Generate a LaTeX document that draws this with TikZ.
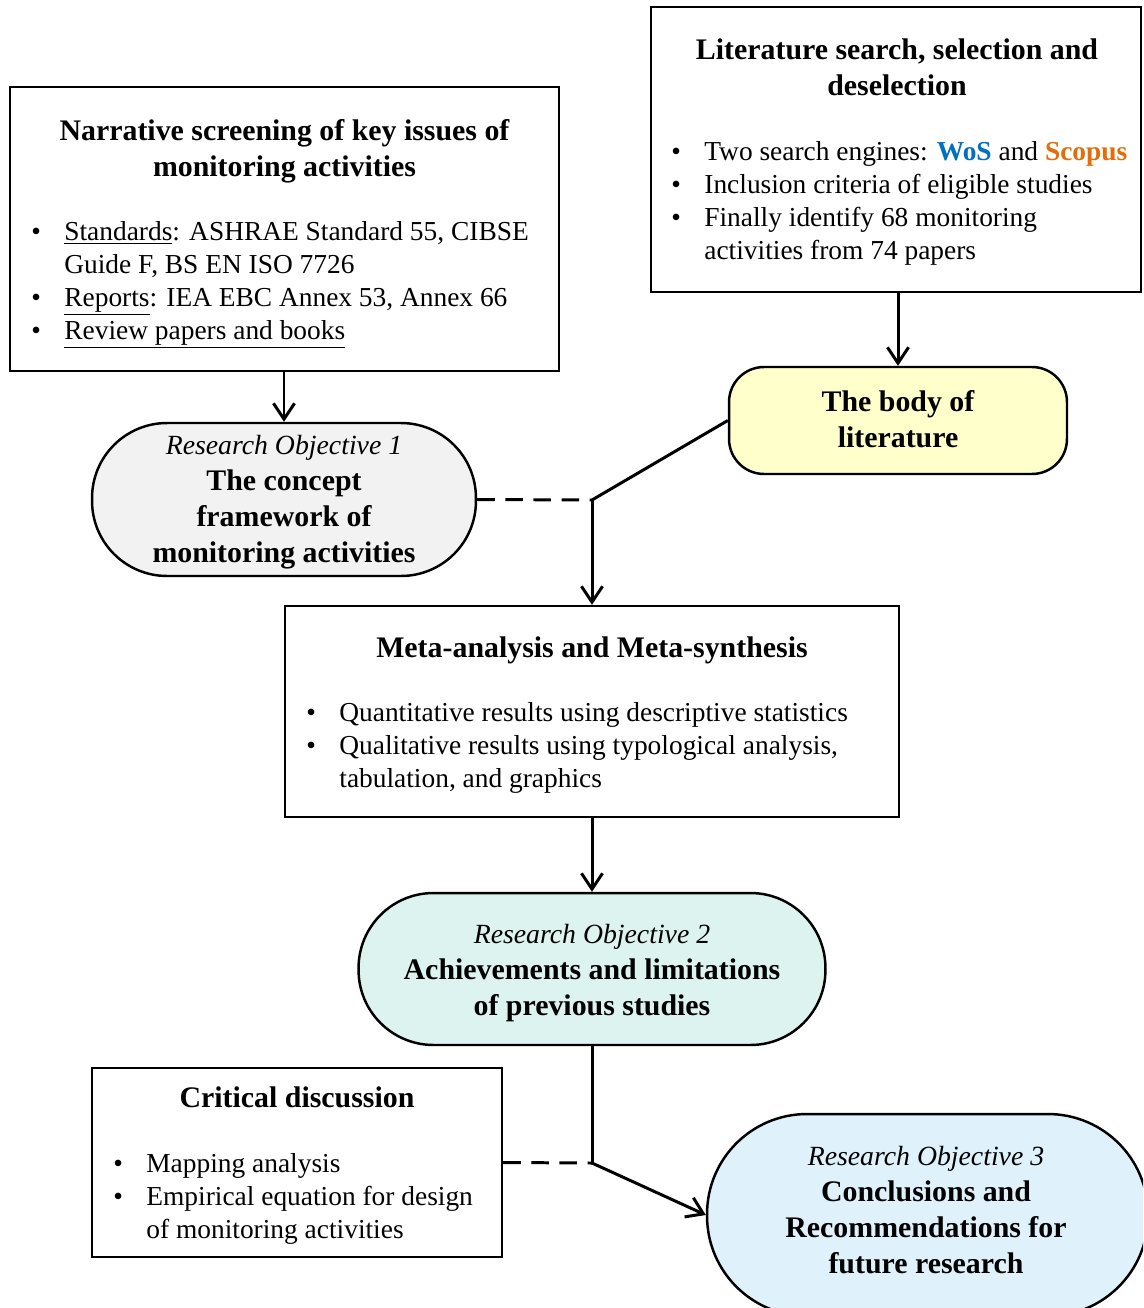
\documentclass[tikz,border=0pt]{standalone}
\usepackage{fontspec}
\setmainfont{Liberation Serif}
\usetikzlibrary{arrows.meta}
\definecolor{wos}{HTML}{0070C0}
\definecolor{scop}{HTML}{E46C0A}
\definecolor{grayfill}{HTML}{F2F2F2}
\definecolor{yelfill}{HTML}{FFFFCC}
\definecolor{mintfill}{HTML}{DDF3EF}
\definecolor{bluefill}{HTML}{DFF1FA}
\newcommand\bul{\makebox[18.8pt][l]{\textbullet}}
\newcommand\ind{\hspace*{18.8pt}}
\begin{document}
\begin{tikzpicture}[x=0.02cm,y=-0.02cm,
  boxst/.style={draw, line width=1.4pt, inner sep=0, fill=white},
  roundst/.style={draw, line width=1.4pt, inner sep=0},
  conn/.style={line width=1.7pt},
  arr/.style={conn, -{Straight Barb[length=9pt,width=12pt]}},
  dashline/.style={line width=1.7pt, dash pattern=on 10pt off 6pt},
  titlefont/.style={inner sep=0, align=center, font=\fontsize{17pt}{20.5pt}\selectfont\bfseries},
  bodyfont/.style={inner sep=0, align=left, anchor=north west, font=\fontsize{15.6pt}{18.78pt}\selectfont}]
\clip (0,0) rectangle (1143,1308);
\fill[white] (0,0) rectangle (1143,1308);

% shapes
\node[boxst, minimum width=10.98cm, minimum height=5.68cm] (narr) at (284.5,229) {};
\node[boxst, minimum width=9.8cm, minimum height=5.7cm] (lit) at (896,149.5) {};
\node[roundst, fill=yelfill, rounded corners=0.7cm, minimum width=6.76cm, minimum height=2.14cm] (body) at (898,420.5) {};
\node[roundst, fill=grayfill, rounded corners=1.5cm, minimum width=7.68cm, minimum height=3.06cm] (ro1) at (284,499.5) {};
\node[boxst, minimum width=12.28cm, minimum height=4.22cm] (meta) at (592,711.5) {};
\node[roundst, fill=mintfill, rounded corners=1.5cm, minimum width=9.34cm, minimum height=3.04cm] (ro2) at (592,969) {};
\node[boxst, minimum width=8.2cm, minimum height=3.78cm] (crit) at (297,1162.5) {};
\node[roundst, fill=bluefill, rounded corners=2cm, minimum width=8.82cm, minimum height=4.04cm] (ro3) at (927.5,1215) {};

\coordinate (j1) at (592,500);
\coordinate (j2) at (592,1163);

% connectors
\draw[arr] (narr.south -| ro1.north) -- (ro1.north);
\draw[arr] (body.north |- lit.south) -- (body.north);
\draw[conn] (body.west) -- (j1);
\draw[dashline] (ro1.east) -- (j1);
\draw[arr] (j1) -- (j1 |- meta.north);
\draw[arr] (meta.south) -- (ro2.north);
\draw[conn] (ro2.south) -- (j2);
\draw[dashline] (crit.east) -- (j2);
\draw[arr] (j2) -- (ro3.west);

% texts
\node[titlefont, anchor=north] (narrT) at (284.5,114.8) {\strut Narrative screening of key issues of\\ monitoring activities};
\node[bodyfont] (narrL) at (31,216.9) {\strut\bul\underline{Standards}: ASHRAE Standard 55, CIBSE\\ \ind Guide F, BS EN ISO 7726\\ \bul\underline{Reports}: IEA EBC Annex 53, Annex 66\\ \bul\underline{Review papers and books}};

\node[titlefont, anchor=north] (litT) at (897,33.8) {\strut Literature search, selection and\\ deselection};
\node[bodyfont] (litL) at (671,136.9) {\strut\bul Two search engines: {\bfseries\color{wos}WoS} and {\bfseries\color{scop}Scopus}\\ \bul Inclusion criteria of eligible studies\\ \bul Finally identify 68 monitoring\\ \ind activities from 74 papers};

\node[titlefont, anchor=north] (bodyT) at (898,385.8) {\strut The body of\\ literature};

\node[titlefont, anchor=north] (ro1T) at (284,428.8) {{\mdseries\itshape\fontsize{15.8pt}{20.5pt}\selectfont\strut Research Objective 1}\\ The concept\\ framework of\\ monitoring activities};

\node[titlefont, anchor=north] (metaT) at (592,631.8) {\strut Meta-analysis and Meta-synthesis};
\node[bodyfont] (metaL) at (306,697.9) {\strut\bul Quantitative results using descriptive statistics\\ \bul Qualitative results using typological analysis,\\ \ind tabulation, and graphics};

\node[titlefont, anchor=north] (ro2T) at (592,917.8) {{\mdseries\itshape\fontsize{15.8pt}{20.5pt}\selectfont\strut Research Objective 2}\\ Achievements and limitations\\ of previous studies};

\node[titlefont, anchor=north] (critT) at (297,1081.8) {\strut Critical discussion};
\node[bodyfont] (critL) at (113,1148.9) {\strut\bul Mapping analysis\\ \bul Empirical equation for design\\ \ind of monitoring activities};

\node[titlefont, anchor=north] (ro3T) at (926,1139.8) {{\mdseries\itshape\fontsize{15.8pt}{20.5pt}\selectfont\strut Research Objective 3}\\ Conclusions and\\ Recommendations for\\ future research};
\end{tikzpicture}
\end{document}
